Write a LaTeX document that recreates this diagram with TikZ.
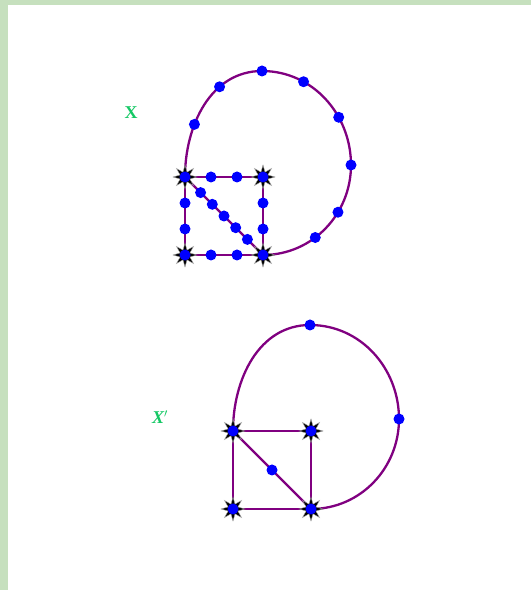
\documentclass[tikz,border=0pt]{standalone}
\usepackage{fontspec}
\setmainfont{Liberation Serif}
\usetikzlibrary{shapes.geometric}
\pgfdeclarelayer{back}
\pgfdeclarelayer{bg}
\pgfsetlayers{back,bg,main}
\definecolor{edgec}{RGB}{128,0,128}
\definecolor{dotc}{RGB}{0,0,255}
\definecolor{labc}{RGB}{20,200,100}
\definecolor{framec}{RGB}{198,224,190}
\tikzset{
  edge/.style={draw=edgec, line width=2.3pt},
  dot/.style={circle, fill=dotc, minimum size=11pt, inner sep=0pt},
  corner/.style={star, star points=8, star point ratio=2.3, minimum size=24pt, inner sep=0pt, fill=black, draw=gray!70, line width=0.4pt},
  lab/.style={text=labc, font=\bfseries\fontsize{18}{18}\selectfont}
}
\begin{document}
\begin{tikzpicture}[x=1pt,y=1pt]
\begin{pgfonlayer}{back}
\fill[framec] (0,0) rectangle (531,590);
\fill[white] (8,0) rectangle (531,585);
\end{pgfonlayer}
\useasboundingbox (0,0) rectangle (531,590);

% labels
\node[lab] (labX) at (131,477) {X};
\node[lab] (labXp) at (160,173) {\itshape X$'$};

% ---------- top figure ----------
\node[corner] (aTL) at (185,413) {};
\node[corner] (aTR) at (263,413) {};
\node[corner] (aBL) at (185,335) {};
\node[corner] (aBR) at (263,335) {};
\foreach \n in {aTL,aTR,aBL,aBR} \node[dot] (\n d) at (\n) {};
\node[dot] (aT) at (262,519) {};
\node[dot] (aR) at (351,425) {};

\begin{pgfonlayer}{bg}
\draw[edge] (aTL.center) -- node[pos=1/3,dot] (a1) {} node[pos=2/3,dot] (a2) {} (aTR.center);
\draw[edge] (aTR.center) -- node[pos=1/3,dot] (a3) {} node[pos=2/3,dot] (a4) {} (aBR.center);
\draw[edge] (aBL.center) -- node[pos=1/3,dot] (a5) {} node[pos=2/3,dot] (a6) {} (aBR.center);
\draw[edge] (aTL.center) -- node[pos=1/3,dot] (a7) {} node[pos=2/3,dot] (a8) {} (aBL.center);
\draw[edge] (aTL.center) -- node[pos=.2,dot] (a9) {} node[pos=.35,dot] (a10) {}
  node[pos=.5,dot] (a11) {} node[pos=.65,dot] (a12) {} node[pos=.8,dot] (a13) {} (aBR.center);
\draw[edge] (aTL.center) to[out=90,in=180] node[pos=.35,dot] (a14) {} node[pos=.67,dot] (a15) {} (aT.center)
  to[out=0,in=90] node[pos=.3,dot] (a16) {} node[pos=.66,dot] (a17) {} (aR.center)
  to[out=-90,in=0] node[pos=.35,dot] (a18) {} node[pos=.6,dot] (a19) {} (aBR.center);
\end{pgfonlayer}

% ---------- bottom figure ----------
\node[corner] (bTL) at (233,159) {};
\node[corner] (bTR) at (311,159) {};
\node[corner] (bBL) at (233,81) {};
\node[corner] (bBR) at (311,81) {};
\foreach \n in {bTL,bTR,bBL,bBR} \node[dot] (\n d) at (\n) {};
\node[dot] (bT) at (310,265) {};
\node[dot] (bR) at (399,171) {};

\begin{pgfonlayer}{bg}
\draw[edge] (bTL.center) -- (bTR.center);
\draw[edge] (bTR.center) -- (bBR.center);
\draw[edge] (bBL.center) -- (bBR.center);
\draw[edge] (bTL.center) -- (bBL.center);
\draw[edge] (bTL.center) -- node[pos=.5,dot] (b1) {} (bBR.center);
\draw[edge] (bTL.center) to[out=90,in=180] (bT.center)
  to[out=0,in=90] (bR.center)
  to[out=-90,in=0] (bBR.center);
\end{pgfonlayer}
\end{tikzpicture}
\end{document}
